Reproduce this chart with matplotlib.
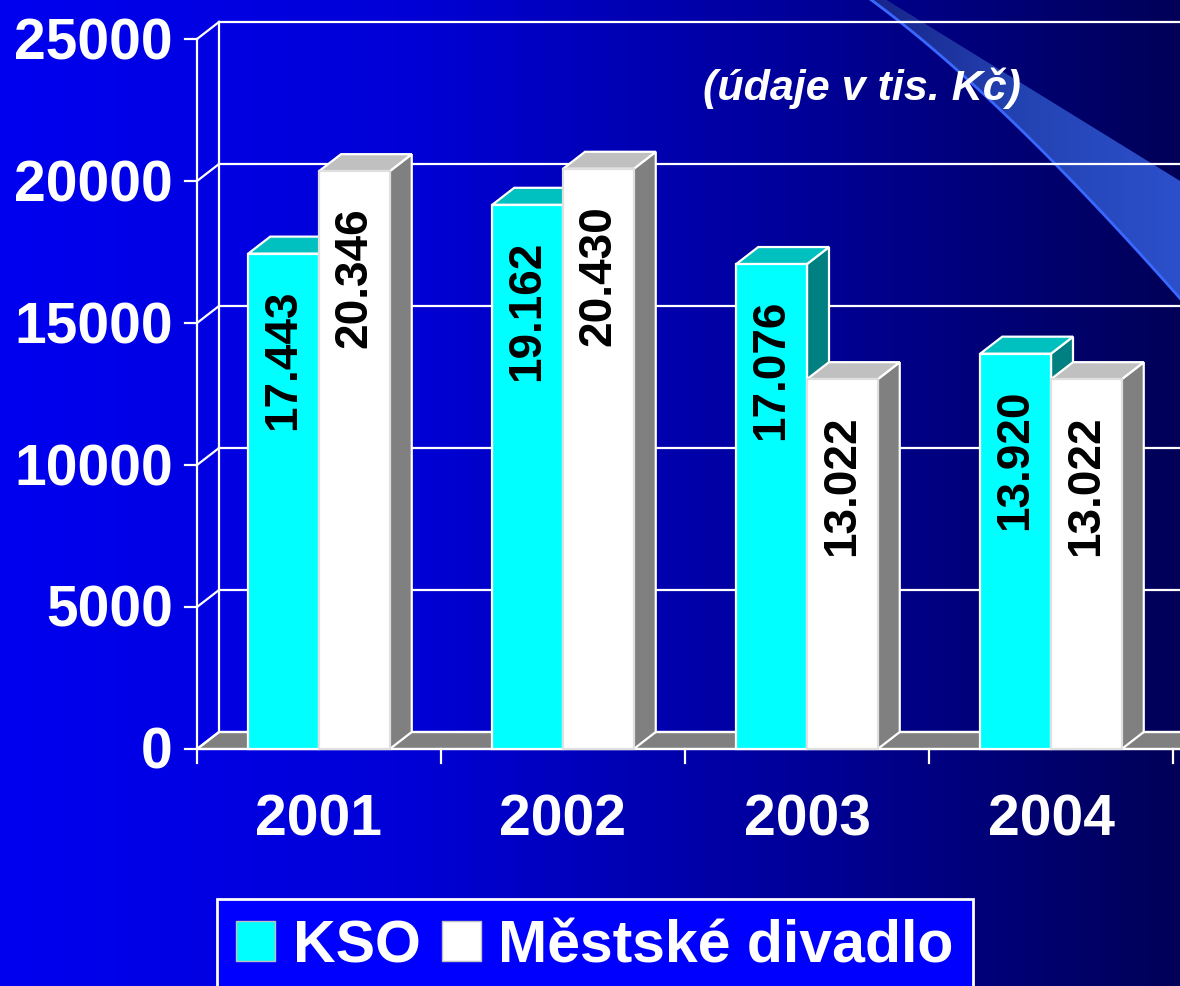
import matplotlib
matplotlib.use("Agg")
import matplotlib.pyplot as plt
import numpy as np
from matplotlib.patches import Polygon, Patch
from matplotlib.colors import LinearSegmentedColormap

plt.rcParams['font.family'] = ['Liberation Sans', 'DejaVu Sans']

years = ['2001', '2002', '2003', '2004']
kso = [17443, 19162, 17076, 13920]
divadlo = [20346, 20430, 13022, 13022]
kso_labels = ['17.443', '19.162', '17.076', '13.920']
divadlo_labels = ['20.346', '20.430', '13.022', '13.022']
y_ticks = [0, 5000, 10000, 15000, 20000, 25000]
series_names = ['KSO', 'Městské divadlo']
subtitle = '(údaje v tis. Kč)'

W, H = 1180, 987
fig = plt.figure(figsize=(W / 100, H / 100), dpi=100)

# background gradient + decorative swoosh (pixel coords)
bg = fig.add_axes([0, 0, 1, 1])
bg.set_xlim(0, W)
bg.set_ylim(H, 0)
bg.axis('off')
bg_cmap = LinearSegmentedColormap.from_list(
    'bg', [(0, '#0000f0'), (0.35, '#0000d6'), (0.65, '#00009e'), (1, '#000058')])
bg.imshow(np.linspace(0, 1, 256)[None, :], cmap=bg_cmap, extent=(0, W, H, 0), aspect='auto')

t = np.linspace(0, 1, 60)
p0, p1, p2 = np.array([870, 0]), np.array([1000, 95]), np.array([1185, 305])
lower = ((1 - t) ** 2)[:, None] * p0 + (2 * (1 - t) * t)[:, None] * p1 + (t ** 2)[:, None] * p2
swoosh = np.vstack([[[885, 0], [1185, 185]], lower[::-1]])
sw_patch = Polygon(swoosh, closed=True, fc='none', ec='none')
bg.add_patch(sw_patch)
sw_cmap = LinearSegmentedColormap.from_list('sw', ['#17248a', '#2444b4', '#2c50cc'])
im = bg.imshow(np.linspace(0, 1, 256)[None, :], cmap=sw_cmap, extent=(870, 1185, H, 0), aspect='auto')
im.set_clip_path(sw_patch)
bg.plot(lower[:, 0], lower[:, 1], color='#3a68ff', lw=2)

# main chart axes, data coords
PX_X0 = 197      # front-left corner
PX_CAT = 244     # pixels per category
PX_Y0 = 750      # zero line from top
PX_PER_UNIT = 142 / 5000

ax = fig.add_axes([0, 0, 1, 1])
ax.set_xlim(-0.5 - PX_X0 / PX_CAT, -0.5 + (W - PX_X0) / PX_CAT)
ax.set_ylim(-(H - PX_Y0) / PX_PER_UNIT, PX_Y0 / PX_PER_UNIT)
ax.axis('off')

dx = 22 / PX_CAT
dv = 17 / PX_PER_UNIT
x_end = ax.get_xlim()[1] + 0.2
lw = 1.6

# floor
n = len(years)
ax.add_patch(Polygon([(-0.5, 0), (n - 0.5 + 0.2, 0), (n - 0.5 + 0.2 + dx, dv), (-0.5 + dx, dv)],
                     fc='#808080', ec='white', lw=lw, zorder=1))

# walls / gridlines
for v in y_ticks:
    ax.plot([-0.5 + dx, x_end], [v + dv, v + dv], color='white', lw=lw, zorder=2)
    ax.plot([-0.5, -0.5 + dx], [v, v + dv], color='white', lw=lw, zorder=2)
    ax.plot([-0.5 - 12 / PX_CAT, -0.5], [v, v], color='white', lw=lw, zorder=2)
    ax.text(-0.5 - 24 / PX_CAT, v - 4 / PX_PER_UNIT, str(v), ha='right', va='center',
            fontsize=41, fontweight='bold', color='white')
ax.plot([-0.5, -0.5], [0, y_ticks[-1]], color='white', lw=lw, zorder=2)
ax.plot([-0.5 + dx] * 2, [dv, y_ticks[-1] + dv], color='white', lw=lw, zorder=2)
ax.plot([-0.5, x_end], [0, 0], color='white', lw=lw, zorder=2)
for k in range(n + 1):
    ax.plot([k - 0.5] * 2, [0, -14 / PX_PER_UNIT], color='white', lw=lw, zorder=2)

# bars
x = np.arange(n)
bw = 0.29


def faces(x0, x1, v, top, side, z):
    ax.add_patch(Polygon([(x1, 0), (x1 + dx, dv), (x1 + dx, v + dv), (x1, v)],
                         fc=side, ec='white', lw=lw, zorder=z))
    ax.add_patch(Polygon([(x0, v), (x1, v), (x1 + dx, v + dv), (x0 + dx, v + dv)],
                         fc=top, ec='white', lw=lw, zorder=z))


for xi, v in zip(x, kso):
    faces(xi - bw, xi, v, '#00c0c0', '#008080', 4)
ax.bar(x - bw / 2, kso, bw, color='#00ffff', edgecolor='white', lw=lw, zorder=5)
for xi, v in zip(x, divadlo):
    faces(xi, xi + bw, v, '#c0c0c0', '#808080', 6)
ax.bar(x + bw / 2, divadlo, bw, color='white', edgecolor='#e0e0e0', lw=lw, zorder=7)

off = 35 / PX_PER_UNIT
for xi, v, lab in zip(x, kso, kso_labels):
    ax.text(xi - bw / 2, v - off, lab, rotation=90, ha='center', va='top',
            fontsize=33, fontweight='bold', color='black', zorder=10)
for xi, v, lab in zip(x, divadlo, divadlo_labels):
    ax.text(xi + bw / 2, v - off, lab, rotation=90, ha='center', va='top',
            fontsize=33, fontweight='bold', color='black', zorder=10)

for xi, yr in zip(x, years):
    ax.text(xi, -71 / PX_PER_UNIT, yr, ha='center', va='center', fontsize=41,
            fontweight='bold', color='white')

fig.text(862 / W, 1 - 88 / H, subtitle, ha='center', va='center', fontsize=31,
         fontweight='bold', style='italic', color='white')

handles = [Patch(fc='#00ffff', ec='#c0c0c0', lw=1), Patch(fc='white', ec='#c0c0c0', lw=1)]
leg = fig.legend(handles, series_names, loc='upper left', bbox_to_anchor=(217 / W, 1 - 900 / H),
                 ncol=2, prop={'size': 42.5, 'weight': 'bold'}, handlelength=0.66, handleheight=0.66,
                 handletextpad=0.3, columnspacing=0.35, borderpad=0.33, borderaxespad=0,
                 fancybox=False, framealpha=1)
leg.get_frame().set_facecolor('#0000ff')
leg.get_frame().set_edgecolor('white')
leg.get_frame().set_linewidth(2)
for txt in leg.get_texts():
    txt.set_color('white')

fig.savefig('out.png', dpi=100)
